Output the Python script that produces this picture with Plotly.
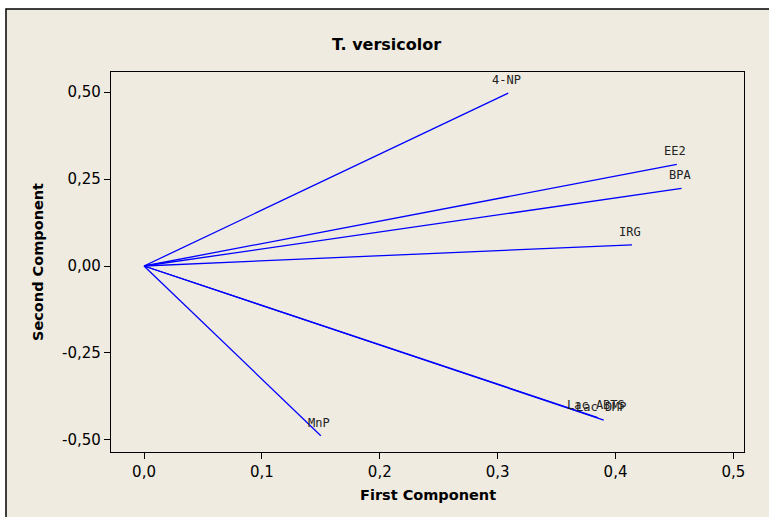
import plotly.graph_objects as go

labels = ["4-NP", "EE2", "BPA", "IRG", "MnP", "Lac ABTS", "Lac DMP"]
pc1 = [0.309, 0.452, 0.456, 0.414, 0.150, 0.385, 0.390]
pc2 = [0.497, 0.292, 0.223, 0.061, -0.488, -0.436, -0.443]

x_ticks = [0.0, 0.1, 0.2, 0.3, 0.4, 0.5]
x_tick_labels = ["0,0", "0,1", "0,2", "0,3", "0,4", "0,5"]
y_ticks = [-0.50, -0.25, 0.00, 0.25, 0.50]
y_tick_labels = ["-0,50", "-0,25", "0,00", "0,25", "0,50"]

W, H = 769, 517
L, R, T, B = 111, 744, 72, 452
pw, ph = R - L, B - T

def px(xp):
    return (xp - L) / pw

def py(yp):
    return (B - yp) / ph

fig = go.Figure()
for lab, a, b in zip(labels, pc1, pc2):
    fig.add_trace(go.Scatter(x=[0, a], y=[0, b], mode="lines",
                             line=dict(color="#0000FF", width=1.3),
                             hoverinfo="skip", showlegend=False))
    fig.add_annotation(x=a, y=b, xref="x", yref="y", text=lab, showarrow=False,
                       xanchor="center", yanchor="bottom", yshift=4, xshift=-2,
                       font=dict(family="DejaVu Sans Mono", size=12, color="#222222"))

beige = "#EFEBE1"
fig.add_shape(type="rect", xref="paper", yref="paper",
              x0=px(6), x1=px(W + 20), y0=py(H + 20), y1=py(9),
              fillcolor=beige, line=dict(color="black", width=1.5), layer="below")

fig.add_annotation(text="<b>T. versicolor</b>", xref="paper", yref="paper",
                   x=px(386), y=py(45), showarrow=False, xanchor="center", yanchor="middle",
                   font=dict(family="DejaVu Sans", size=16, color="black"))
fig.add_annotation(text="<b>First Component</b>", xref="paper", yref="paper",
                   x=0.5, y=py(495), showarrow=False, xanchor="center", yanchor="middle",
                   font=dict(family="DejaVu Sans", size=14.5, color="black"))
fig.add_annotation(text="<b>Second Component</b>", xref="paper", yref="paper",
                   x=px(38), y=0.5, showarrow=False, xanchor="center", yanchor="middle",
                   textangle=-90,
                   font=dict(family="DejaVu Sans", size=14.5, color="black"))

fig.update_layout(
    width=W, height=H,
    margin=dict(l=L, r=W - R, t=T, b=H - B, pad=0),
    paper_bgcolor="white", plot_bgcolor="white",
    font=dict(family="DejaVu Sans", size=15, color="black"),
    xaxis=dict(range=[-0.028, 0.509], tickvals=x_ticks, ticktext=x_tick_labels,
               showgrid=False, zeroline=False, ticks="outside", ticklen=6,
               tickcolor="black", showline=True, linecolor="black", linewidth=1.2,
               mirror=True, tickfont=dict(size=15)),
    yaxis=dict(range=[-0.535, 0.558], tickvals=y_ticks, ticktext=y_tick_labels,
               showgrid=False, zeroline=False, ticks="outside", ticklen=6,
               tickcolor="black", showline=True, linecolor="black", linewidth=1.2,
               mirror=True, tickfont=dict(size=15)),
)

fig.write_html("out.html")
